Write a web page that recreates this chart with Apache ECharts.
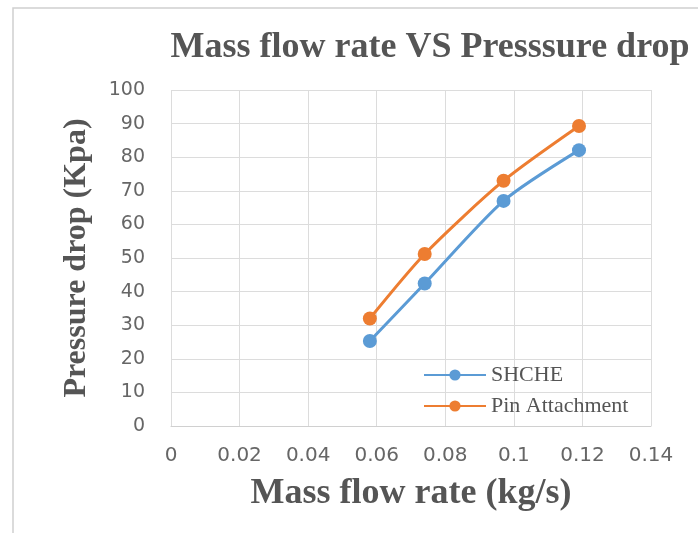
<!DOCTYPE html>
<html><head><meta charset="utf-8">
<script src="https://cdn.jsdelivr.net/npm/echarts@6/dist/echarts.min.js"></script>
<style>html,body{margin:0;padding:0;background:#fff}#c{width:698px;height:533px}</style>
</head><body><div id="c"></div>
<script>
const massFlow = [0.058, 0.074, 0.097, 0.119];
const shche = [25.3, 42.4, 67, 82.1];
const pinAttachment = [32, 51.2, 73, 89.3];
const seriesNames = ['SHCHE', 'Pin Attachment'];
const colors = ['#5B9BD5', '#ED7D31'];

const chart = echarts.init(document.getElementById('c'));
const mk = (name, vals, color) => ({
  name, type: 'line', smooth: 0.25,
  data: massFlow.map((x, i) => [x, vals[i]]),
  symbol: 'circle', symbolSize: 14,
  lineStyle: { color, width: 3 },
  itemStyle: { color },
  z: name === 'SHCHE' ? 3 : 2
});
chart.setOption({
  animation: false,
  graphic: [{ type: 'rect', shape: { x: 13, y: 8, width: 700, height: 540 },
    style: { fill: 'none', stroke: '#d0d0d0', lineWidth: 1.5 } }],
  title: {
    text: 'Mass flow rate VS Presssure drop', left: 425, top: 25, textAlign: 'center',
    textStyle: { fontFamily: 'Liberation Serif', fontWeight: 'bold', fontSize: 36, color: '#555' }
  },
  legend: {
    orient: 'vertical', left: 418, top: 359, itemGap: 9, itemWidth: 62, itemHeight: 14,
    data: seriesNames,
    textStyle: { fontFamily: 'Liberation Serif', fontSize: 22, color: '#555' }
  },
  grid: { left: 171, right: 47, top: 90, bottom: 107 },
  xAxis: {
    type: 'value', min: 0, max: 0.14, interval: 0.02,
    name: 'Mass flow rate (kg/s)', nameLocation: 'middle', nameGap: 50,
    nameTextStyle: { fontFamily: 'Liberation Serif', fontWeight: 'bold', fontSize: 36, color: '#555' },
    axisLine: { lineStyle: { color: '#d0d0d0' } }, axisTick: { show: false },
    axisLabel: { fontFamily: 'DejaVu Sans', fontSize: 20, color: '#666', margin: 20,
      formatter: v => String(+v.toFixed(2)) },
    splitLine: { show: true, lineStyle: { color: '#dcdcdc' } }
  },
  yAxis: {
    type: 'value', min: 0, max: 100, interval: 10,
    name: 'Pressure drop (Kpa)', nameLocation: 'middle', nameGap: 78, nameRotate: 90,
    nameTextStyle: { fontFamily: 'Liberation Serif', fontWeight: 'bold', fontSize: 32, color: '#555' },
    axisLine: { show: false }, axisTick: { show: false },
    axisLabel: { fontFamily: 'DejaVu Sans', fontSize: 19, color: '#666', margin: 26 },
    splitLine: { lineStyle: { color: '#dcdcdc' } }
  },
  series: [mk(seriesNames[0], shche, colors[0]), mk(seriesNames[1], pinAttachment, colors[1])]
});
</script></body></html>
